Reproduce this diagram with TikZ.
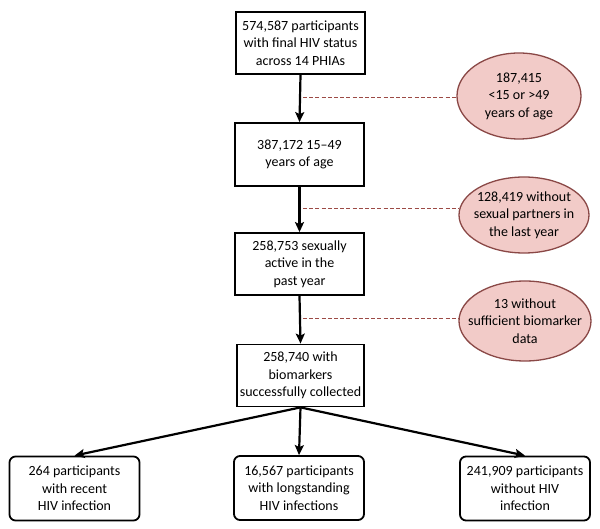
\documentclass[tikz,border=0pt]{standalone}
\usepackage{fontspec}
\setmainfont{Carlito}
\usetikzlibrary{arrows.meta,shapes.geometric}
\definecolor{pinkfill}{HTML}{F2CBC8}
\definecolor{pinkline}{HTML}{8A4846}
\definecolor{dashcol}{HTML}{9C4A45}
\begin{document}
\begin{tikzpicture}[x=1pt,y=-1pt,
  txt/.style={font=\fontsize{14}{17.5}\selectfont, align=center, inner sep=0pt},
  flowbox/.style={txt, draw=black, line width=1.8pt, fill=white},
  endbox/.style={flowbox, rounded corners=6pt, minimum width=130pt, minimum height=64pt},
  excl/.style={ellipse, inner sep=0pt, draw=pinkline, line width=1.3pt, fill=pinkfill},
  flowarrow/.style={line width=2.2pt, -{Stealth[length=10pt,width=9pt,inset=2pt]}},
  exclline/.style={draw=dashcol, line width=1pt, dash pattern=on 4pt off 2.2pt}]
\useasboundingbox (0,0) rectangle (600,529);

\node[flowbox, minimum width=129pt, minimum height=62pt] (b1) at (300.5,43) {574,587 participants\\with final HIV status\\across 14 PHIAs};
\node[flowbox, minimum width=129pt, minimum height=63pt] (b2) at (299.5,154.5) {387,172 15--49\\years of age};
\node[flowbox, minimum width=129pt, minimum height=62pt] (b3) at (299.5,264) {258,753 sexually\\active in the\\past year};
\node[flowbox, minimum width=127pt, minimum height=62pt] (b4) at (300.5,375.5) {258,740 with\\biomarkers\\successfully collected};

\node[endbox] (bl) at (74.5,488.5) {264 participants\\with recent\\HIV infection};
\node[endbox] (bm) at (299,488) {16,567 participants\\with longstanding\\HIV infections};
\node[endbox] (br) at (525,488.5) {241,909 participants\\without HIV\\infection};

\node[excl, minimum width=124pt, minimum height=86pt] (e1) at (519,96) {};
\node[txt] (t1) at (e1) {187,415\\<15 or >49\\years of age};
\node[excl, minimum width=130pt, minimum height=76pt] (e2) at (524,215) {};
\node[txt] (t2) at (e2) {128,419 without\\sexual partners in\\the last year};
\node[excl, minimum width=132pt, minimum height=80pt] (e3) at (525,321) {};
\node[txt] (t3) at (e3) {13 without\\sufficient biomarker\\data};

\draw[flowarrow] (b1.south) -- (b2.north);
\draw[flowarrow] (b2.south) -- (b3.north);
\draw[flowarrow] (b3.south) -- (b4.north);
\draw[flowarrow] (b4.south) -- (bl.north);
\draw[flowarrow] (b4.south) -- (bm.north);
\draw[flowarrow] (b4.south) -- (br.north);

\coordinate (d1) at (303,98);
\coordinate (d2) at (303,209);
\coordinate (d3) at (303,319);
\draw[exclline] (d1) -- (d1 -| e1.west);
\draw[exclline] (d2) -- (d2 -| e2.west);
\draw[exclline] (d3) -- (d3 -| e3.west);
\end{tikzpicture}
\end{document}
